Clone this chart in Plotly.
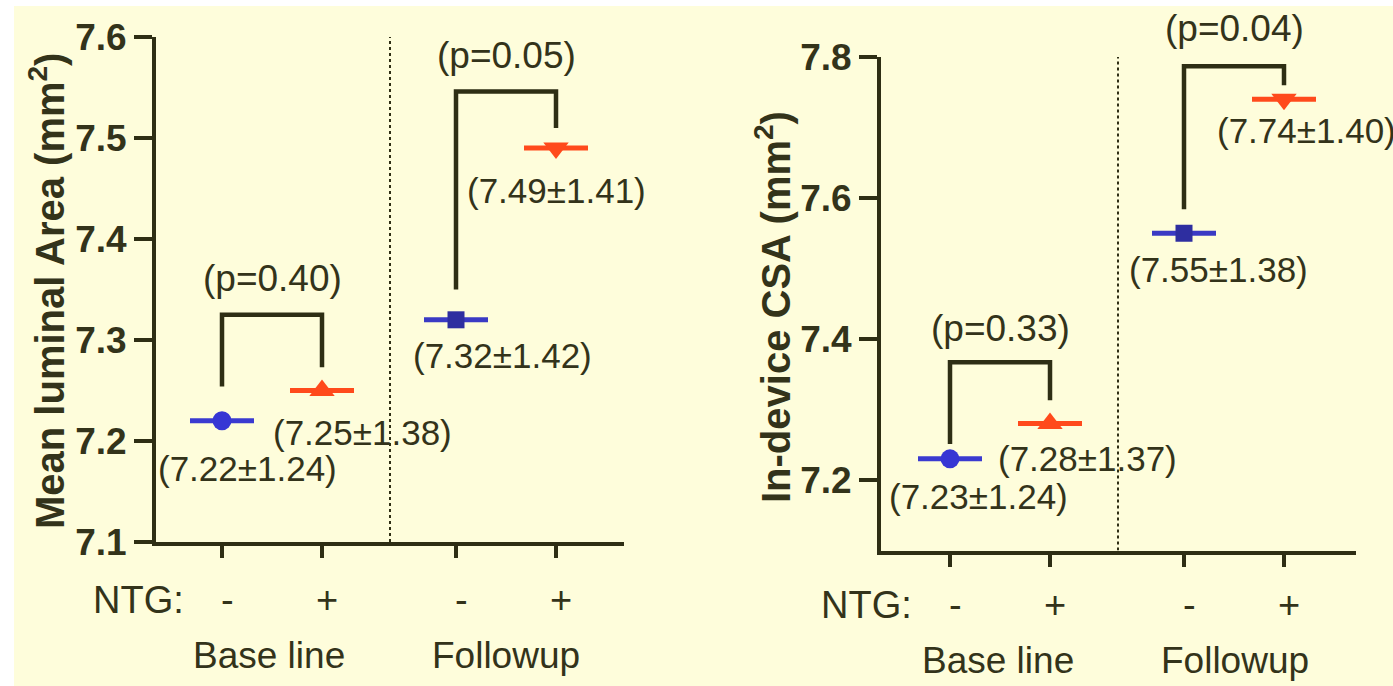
import plotly.graph_objects as go

# ---------------- data ----------------
groups = ["Base line", "Followup"]
ntg_labels = ["-", "+", "-", "+"]

mla_mean = [7.22, 7.25, 7.32, 7.49]
mla_sd = [1.24, 1.38, 1.42, 1.41]
mla_p = ["0.40", "0.05"]
# bracket: [left bottom, top, right bottom] per group
mla_brackets = [[7.254, 7.325, 7.273], [7.350, 7.546, 7.510]]

csa_mean = [7.23, 7.28, 7.55, 7.74]
csa_sd = [1.24, 1.37, 1.38, 1.40]
csa_p = ["0.33", "0.04"]
csa_brackets = [[7.251, 7.367, 7.313], [7.584, 7.787, 7.760]]

# ---------------- style / layout constants ----------------
W, H = 1393, 686
POS = [1, 2, 3.34, 4.34]
HALF = 0.32
SEP = 2.68
TXT = "#33331a"
AX = "#2e2e14"
BG = "#FEFDDB"
FONT = "Liberation Sans, Arial, sans-serif"
symbols = ["circle", "triangle-up", "square", "triangle-down"]
mcolors = ["#3636d4", "#ff4a1c", "#2e2ea0", "#ff4a1c"]
lcolors = ["#3a3ad0", "#ff4a1c", "#3a3ac4", "#ff4a1c"]
msizes = [19, 22, 17, 22]

panels = [
    dict(xa="x", ya="y", mean=mla_mean, sd=mla_sd, p=mla_p, br=mla_brackets,
         xdom=[156 / W, 624 / W], ydom=[(H - 542) / H, (H - 37) / H],
         xr=[0.34, 5.02], yr=[7.1, 7.6], ytv=[7.1, 7.2, 7.3, 7.4, 7.5, 7.6],
         title="Mean luminal Area (mm<sup>2</sup>)", title_x=47, title_y=291,
         lab_dx=[25, 40, 46, 0], lab_dy=[-48, -42, -36, -42], pshift=[36, 36],
         ntg_x=138, row_y=600, grp_y=655, grp_x=[269, 506]),
    dict(xa="x2", ya="y2", mean=csa_mean, sd=csa_sd, p=csa_p, br=csa_brackets,
         xdom=[881 / W, 1356 / W], ydom=[(H - 550.5) / H, (H - 57) / H],
         xr=[0.31, 5.06], yr=[7.1, 7.8], ytv=[7.2, 7.4, 7.6, 7.8],
         title="In-device CSA (mm<sup>2</sup>)", title_x=773, title_y=307,
         lab_dx=[28, 37, 34, 22], lab_dy=[-38, -35, -36, -31], pshift=[34, 38],
         ntg_x=866, row_y=605, grp_y=660, grp_x=[998, 1235]),
]

fig = go.Figure()
annotations = []
shapes = [dict(type="rect", xref="paper", yref="paper", x0=14 / W, x1=1,
               y0=0, y1=(H - 6) / H, fillcolor=BG, line=dict(width=0), layer="below")]


def ann(**kw):
    d = dict(showarrow=False, xanchor="center", yanchor="middle")
    d.update(kw)
    annotations.append(d)


for pn in panels:
    xa, ya = pn["xa"], pn["ya"]
    # brackets
    for g in range(2):
        lb, top, rb = pn["br"][g]
        x0, x1 = POS[2 * g], POS[2 * g + 1]
        fig.add_trace(go.Scatter(x=[x0, x0, x1, x1], y=[lb, top, top, rb], mode="lines",
                                 line=dict(color=AX, width=4.5), xaxis=xa, yaxis=ya,
                                 showlegend=False, hoverinfo="skip"))
        ann(x=(x0 + x1) / 2, y=top, xref=xa, yref=ya, yshift=pn["pshift"][g],
            text=f"(p={pn['p'][g]})", font=dict(size=37, color=TXT, family=FONT))
    # mean lines and markers
    for i in range(4):
        fig.add_trace(go.Scatter(x=[POS[i] - HALF, POS[i] + HALF], y=[pn["mean"][i]] * 2,
                                 mode="lines", line=dict(color=lcolors[i], width=5),
                                 xaxis=xa, yaxis=ya, showlegend=False, hoverinfo="skip"))
        fig.add_trace(go.Scatter(x=[POS[i]], y=[pn["mean"][i]], mode="markers",
                                 marker=dict(symbol=symbols[i], size=msizes[i], color=mcolors[i]),
                                 xaxis=xa, yaxis=ya, showlegend=False))
        ann(x=POS[i], y=pn["mean"][i], xref=xa, yref=ya,
            xshift=pn["lab_dx"][i], yshift=pn["lab_dy"][i],
            text=f"({pn['mean'][i]:.2f}±{pn['sd'][i]:.2f})",
            font=dict(size=35, color=TXT, family=FONT))
        ann(x=POS[i], y=(H - pn["row_y"]) / H, xref=xa, yref="paper",
            xshift=5, text=ntg_labels[i], font=dict(size=38, color=TXT, family=FONT))
    # separator
    shapes.append(dict(type="line", xref=xa, yref=ya, x0=SEP, x1=SEP, y0=pn["yr"][0], y1=pn["yr"][1],
                       line=dict(color=AX, width=2, dash="dot")))
    # NTG & group labels
    ann(x=pn["ntg_x"] / W, y=(H - pn["row_y"]) / H, xref="paper", yref="paper",
        text="NTG:", font=dict(size=38, color=TXT, family=FONT))
    for g in range(2):
        ann(x=pn["grp_x"][g] / W, y=(H - pn["grp_y"]) / H, xref="paper", yref="paper",
            text=groups[g], font=dict(size=37, color=TXT, family=FONT))
    # y title
    ann(x=pn["title_x"] / W, y=(H - pn["title_y"]) / H, xref="paper", yref="paper",
        text=f"<b>{pn['title']}</b>", textangle=-90,
        font=dict(size=40, color=TXT, family=FONT))

axis_common = dict(showgrid=False, zeroline=False, showline=True, linecolor=AX, linewidth=4,
                   ticks="outside", tickcolor=AX, tickwidth=4, automargin=False)
ytickfont = dict(size=37, color=TXT, family=FONT, weight="bold")

fig.update_layout(
    template="none",
    width=W, height=H, margin=dict(l=0, r=0, t=0, b=0, pad=0), autosize=False,
    paper_bgcolor="white", plot_bgcolor="rgba(0,0,0,0)",
    showlegend=False, annotations=annotations, shapes=shapes,
    xaxis=dict(domain=panels[0]["xdom"], range=panels[0]["xr"], anchor="y", tickvals=POS,
               showticklabels=False, ticklen=12, **axis_common),
    yaxis=dict(domain=panels[0]["ydom"], range=panels[0]["yr"], anchor="x", tickvals=panels[0]["ytv"],
               ticklen=18, tickformat=".1f", tickfont=ytickfont, **axis_common),
    xaxis2=dict(domain=panels[1]["xdom"], range=panels[1]["xr"], anchor="y2", tickvals=POS,
                showticklabels=False, ticklen=12, **axis_common),
    yaxis2=dict(domain=panels[1]["ydom"], range=panels[1]["yr"], anchor="x2", tickvals=panels[1]["ytv"],
                ticklen=18, tickformat=".1f", tickfont=ytickfont, **axis_common),
)

fig.write_html("out.html", config={"displayModeBar": False},
               post_script="document.body.style.margin='0';document.body.style.overflow='hidden';")
